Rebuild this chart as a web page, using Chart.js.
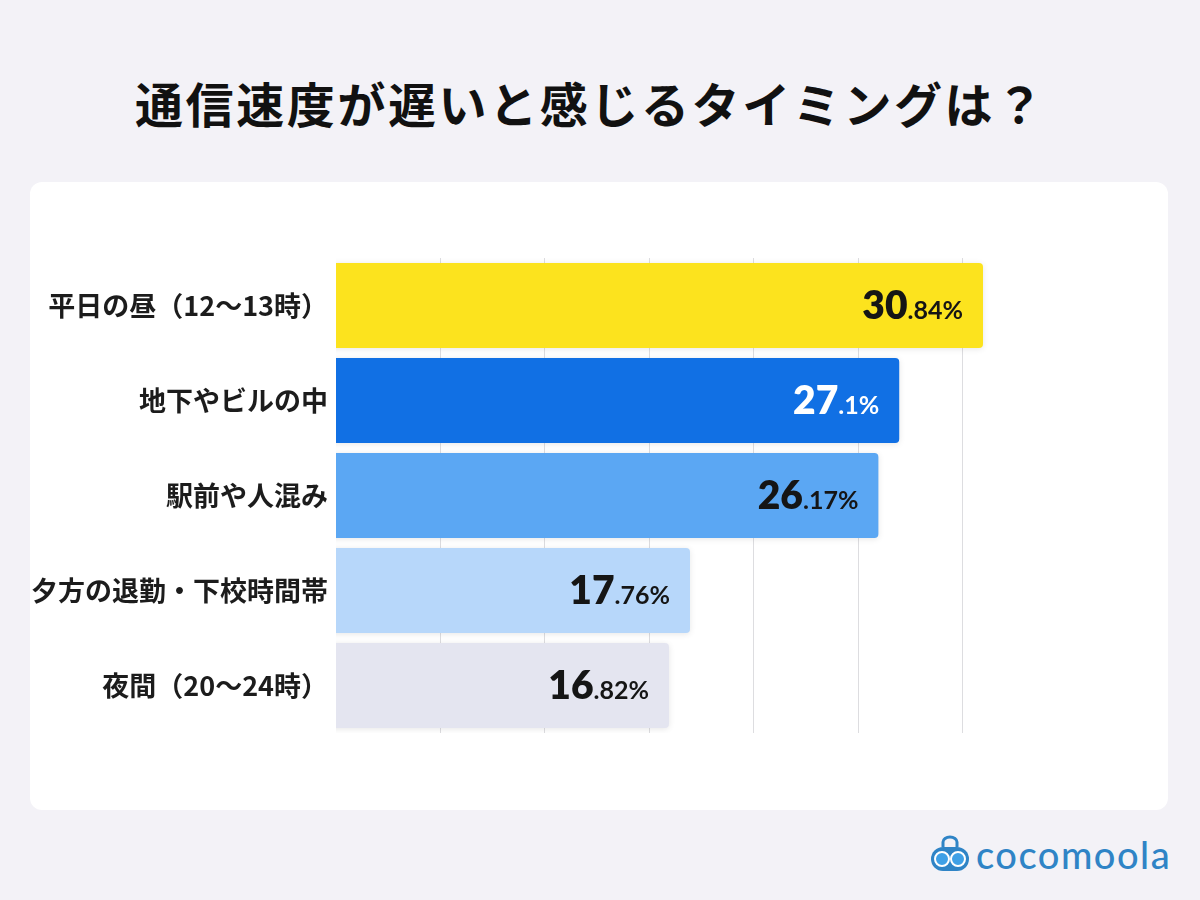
<!DOCTYPE html>
<html lang="ja">
<head>
<meta charset="utf-8">
<script src="https://cdn.jsdelivr.net/npm/chart.js@4"></script>
<style>
  html, body { margin: 0; padding: 0; }
  body {
    width: 1200px; height: 900px; position: relative; overflow: hidden;
    background: #F3F2F7;
    font-family: "Noto Sans CJK JP", "Noto Sans", sans-serif;
  }
  #title {
    position: absolute; left: 135px; top: 78px;
    font-size: 48px; line-height: 48px; font-weight: 700; color: #111;
    letter-spacing: 2.6px; white-space: nowrap;
  }
  #card {
    position: absolute; left: 30px; top: 182px; width: 1138px; height: 628px;
    background: #FFFFFF; border-radius: 12px;
  }
  #chart { position: absolute; left: 0; top: 0; }
  #logo { position: absolute; left: 930px; top: 834px; display: flex; align-items: center; }
  #logo span {
    font-family: Lato, sans-serif; font-size: 38px; font-weight: 500;
    color: #2F84C6; letter-spacing: 1.5px; margin-left: 6px; line-height: 40px;
  }
</style>
</head>
<body>
<div id="title">通信速度が遅いと感じるタイミングは？</div>
<div id="card"><canvas id="chart" width="1138" height="628"></canvas></div>
<div id="logo">
  <svg width="40" height="38" viewBox="0 0 40 38">
    <path d="M13 12 V7 a7 5 0 0 1 14 0 V12" fill="none" stroke="#2F84C6" stroke-width="3"/>
    <rect x="1" y="12" width="38" height="24" rx="12" fill="#2F84C6"/>
    <circle cx="12" cy="24" r="7" fill="#3FA0E6" stroke="#fff" stroke-width="2"/>
    <circle cx="28" cy="24" r="7" fill="#3FA0E6" stroke="#fff" stroke-width="2"/>
  </svg>
  <span>cocomoola</span>
</div>
<script>
const categories = ['平日の昼（12〜13時）', '地下やビルの中', '駅前や人混み', '夕方の退勤・下校時間帯', '夜間（20〜24時）'];
const values = [30.84, 27.1, 26.17, 17.76, 16.82];
const barColors = ['#FCE31E', '#1170E4', '#5BA7F3', '#B7D7FA', '#E4E5F0'];
const labelColors = ['#151515', '#FFFFFF', '#151515', '#151515', '#151515'];

// soft shadow under bars
const barShadow = {
    id: 'barShadow',
    beforeDatasetDraw(chart) {
        const ctx = chart.ctx;
        ctx.save();
        ctx.shadowColor = 'rgba(0, 0, 0, 0.10)';
        ctx.shadowBlur = 6;
        ctx.shadowOffsetY = 1;
    },
    afterDatasetDraw(chart) {
        chart.ctx.restore();
    }
};

// value labels: big integer part, smaller decimals
const valueLabels = {
    id: 'valueLabels',
    afterDatasetsDraw(chart) {
        const ctx = chart.ctx;
        const meta = chart.getDatasetMeta(0);
        meta.data.forEach((bar, i) => {
            const parts = String(values[i]).split('.');
            const intPart = parts[0];
            const decPart = '.' + parts[1] + '%';
            ctx.save();
            ctx.fillStyle = labelColors[i];
            ctx.textBaseline = 'alphabetic';
            ctx.textAlign = 'right';
            ctx.font = '700 25px Lato, sans-serif';
            const decW = ctx.measureText(decPart).width;
            const right = bar.x - 20;
            const base = bar.y + 13;
            ctx.fillText(decPart, right, base);
            ctx.font = '800 39px Lato, sans-serif';
            ctx.fillText(intPart, right - decW, base);
            ctx.restore();
        });
    }
};

new Chart(document.getElementById('chart').getContext('2d'), {
    type: 'bar',
    data: {
        labels: categories,
        datasets: [{
            data: values,
            backgroundColor: barColors,
            borderRadius: 4,
            borderSkipped: false,
            barPercentage: 1,
            categoryPercentage: 0.895,
            xAxisID: 'x',
            yAxisID: 'y'
        }]
    },
    options: {
        indexAxis: 'y',
        responsive: false,
        animation: false,
        layout: { padding: { top: 76, bottom: 77, right: 101, left: 0 } },
        plugins: {
            legend: { display: false },
            tooltip: { enabled: false }
        },
        scales: {
            x: { type: 'linear', display: false, min: 1.955, max: 34.59 },
            x2: {
                type: 'linear', position: 'bottom', min: 0, max: 7,
                ticks: { display: false, stepSize: 1 },
                border: { display: false },
                grid: {
                    drawTicks: false,
                    color: (c) => (c.tick && c.tick.value > 0 && c.tick.value < 7) ? '#DDDDE0' : 'rgba(0,0,0,0)'
                }
            },
            y: {
                grid: { display: false, drawTicks: false },
                border: { display: false },
                afterFit: (scale) => { scale.width = 306; },
                ticks: {
                    padding: 8,
                    color: '#1c1c1c',
                    font: { family: '"Noto Sans CJK JP", sans-serif', size: 27, weight: '700' }
                }
            }
        }
    },
    plugins: [barShadow, valueLabels]
});
</script>
</body>
</html>
